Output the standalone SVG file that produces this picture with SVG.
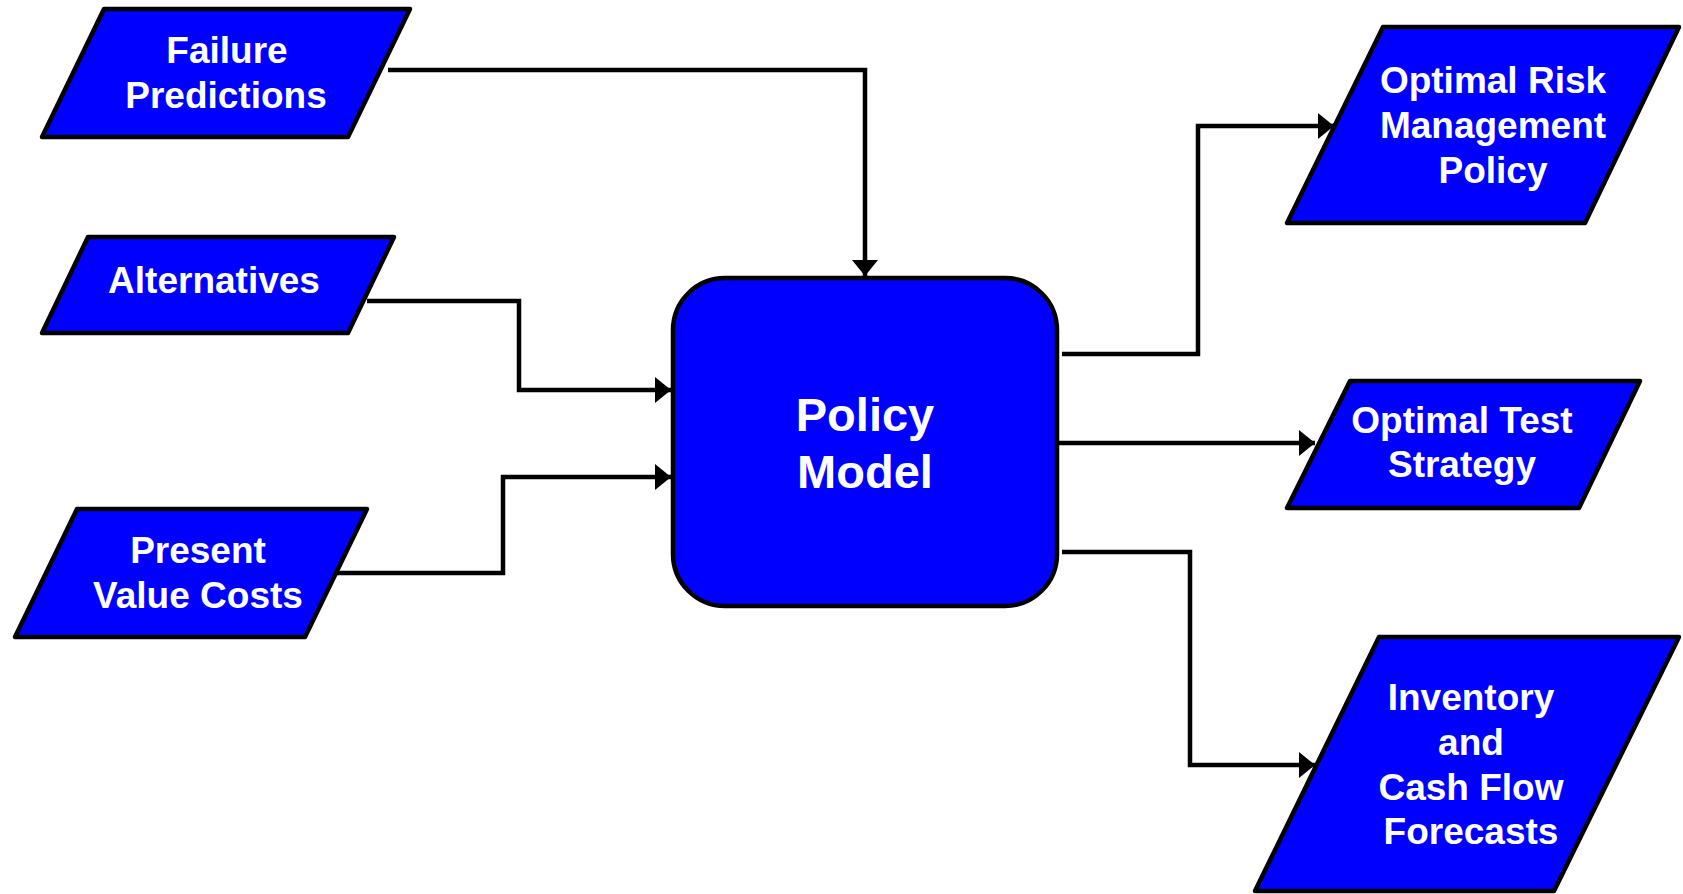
<svg xmlns="http://www.w3.org/2000/svg" width="1683" height="894" viewBox="0 0 1683 894">
<style>
.shape{fill:#0000FF;stroke:#000;stroke-width:4.5;stroke-linejoin:round}
.lbl{font-family:"Liberation Sans",Arial,sans-serif;font-weight:bold;font-size:37px;fill:#fff;text-anchor:middle}
.big{font-size:47px}
.conn{fill:none;stroke:#000;stroke-width:4.5;stroke-linejoin:miter}
</style>
<defs>
<marker id="arr" markerUnits="userSpaceOnUse" markerWidth="17" markerHeight="26" refX="16" refY="13" orient="auto">
<path d="M0,0 L16,13 L0,26 z" fill="#000"/>
</marker>
</defs>
<rect width="1683" height="894" fill="#fff"/>
<g id="connectors">
<path class="conn" d="M388,70 H865 V276" marker-end="url(#arr)"/>
<path class="conn" d="M367,301 H519 V390 H671" marker-end="url(#arr)"/>
<path class="conn" d="M337,573 H503 V477 H671" marker-end="url(#arr)"/>
<path class="conn" d="M1062,354 H1198 V126 H1334" marker-end="url(#arr)"/>
<path class="conn" d="M1059,443 H1315" marker-end="url(#arr)"/>
<path class="conn" d="M1062,552 H1190 V765 H1315" marker-end="url(#arr)"/>
</g>
<g id="failure-predictions">
<polygon class="shape" points="104,9 410,9 348,137 42,137"/>
<text class="lbl" x="227" y="63">Failure</text>
<text class="lbl" x="226" y="108">Predictions</text>
</g>
<g id="alternatives">
<polygon class="shape" points="88,237 394,237 348,333 42,333"/>
<text class="lbl" x="214" y="293">Alternatives</text>
</g>
<g id="present-value-costs">
<polygon class="shape" points="77,509 367,509 305,637 15,637"/>
<text class="lbl" x="198" y="563">Present</text>
<text class="lbl" x="198" y="608">Value Costs</text>
</g>
<g id="policy-model">
<rect class="shape" x="673" y="278" width="384" height="328" rx="52" ry="52"/>
<text class="lbl big" x="865" y="431">Policy</text>
<text class="lbl big" x="865" y="488">Model</text>
</g>
<g id="optimal-risk-management-policy">
<polygon class="shape" points="1383,27 1679,27 1585,223 1287,223"/>
<text class="lbl" x="1493" y="93">Optimal Risk</text>
<text class="lbl" x="1493" y="138">Management</text>
<text class="lbl" x="1493" y="183">Policy</text>
</g>
<g id="optimal-test-strategy">
<polygon class="shape" points="1350,381 1640,381 1579,508 1287,508"/>
<text class="lbl" x="1462" y="433">Optimal Test</text>
<text class="lbl" x="1462" y="477">Strategy</text>
</g>
<g id="inventory-cash-flow-forecasts">
<polygon class="shape" points="1379,637 1679,637 1554,891 1255,891"/>
<text class="lbl" x="1471" y="710">Inventory</text>
<text class="lbl" x="1471" y="755">and</text>
<text class="lbl" x="1471" y="800">Cash Flow</text>
<text class="lbl" x="1471" y="844">Forecasts</text>
</g>
</svg>
